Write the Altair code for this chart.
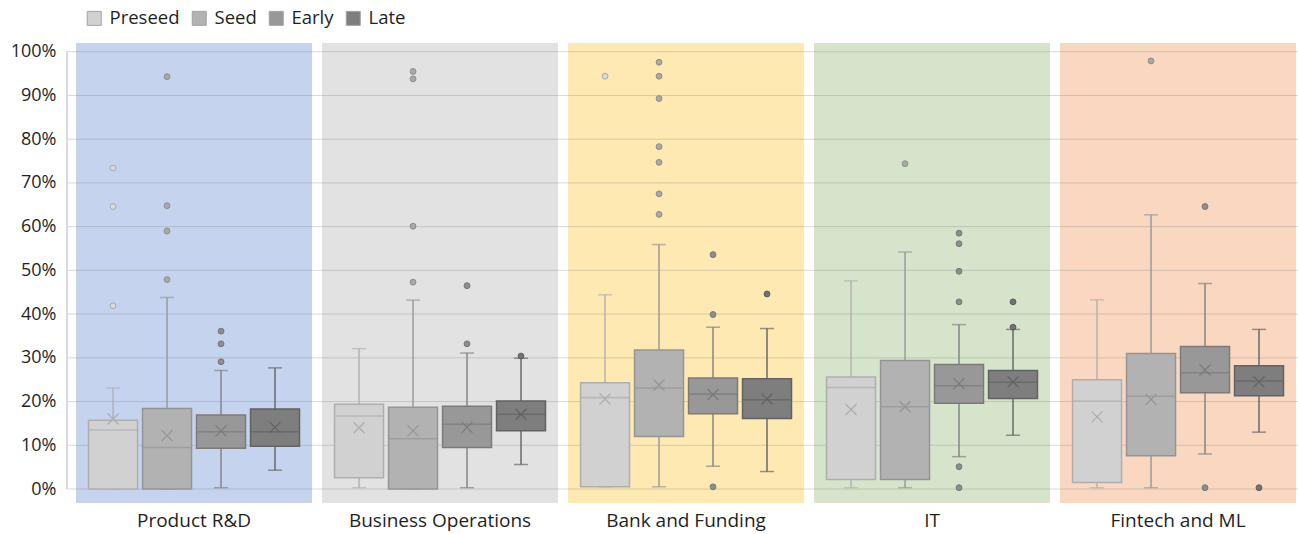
import altair as alt
import pandas as pd

# Funding stages within each business area
categories = ["Product R&D", "Business Operations", "Bank and Funding", "IT", "Fintech and ML"]
stages = ["Preseed", "Seed", "Early", "Late"]

# Box-plot statistics in percent, one row per category (Preseed, Seed, Early, Late)
q1 = [
    [0.0, 0.0, 9.3, 9.8],
    [2.6, 0.0, 9.5, 13.3],
    [0.5, 12.0, 17.2, 16.1],
    [2.2, 2.2, 19.6, 20.7],
    [1.5, 7.6, 22.0, 21.3],
]
median = [
    [13.5, 9.5, 13.1, 13.1],
    [16.7, 11.5, 14.8, 17.1],
    [20.9, 23.1, 21.7, 20.4],
    [23.2, 18.8, 23.6, 24.4],
    [20.1, 21.2, 26.6, 24.7],
]
q3 = [
    [15.7, 18.4, 16.9, 18.3],
    [19.4, 18.7, 18.9, 20.1],
    [24.3, 31.8, 25.4, 25.2],
    [25.6, 29.4, 28.5, 27.1],
    [25.0, 31.0, 32.6, 28.2],
]
whisker_low = [
    [0.0, 0.0, 0.3, 4.3],
    [0.3, 0.0, 0.3, 5.6],
    [0.5, 0.5, 5.2, 4.0],
    [0.3, 0.3, 7.4, 12.3],
    [0.3, 0.3, 8.0, 13.0],
]
whisker_high = [
    [23.1, 43.8, 27.1, 27.7],
    [32.1, 43.2, 31.1, 29.9],
    [44.4, 55.9, 37.0, 36.7],
    [47.6, 54.2, 37.6, 36.5],
    [43.3, 62.7, 47.0, 36.5],
]
mean = [
    [16.0, 12.2, 13.3, 14.1],
    [14.0, 13.3, 14.1, 17.1],
    [20.6, 23.8, 21.6, 20.6],
    [18.2, 18.8, 24.1, 24.5],
    [16.5, 20.5, 27.2, 24.5],
]

# Outlying observations per (category, stage)
outliers = {
    ("Product R&D", "Preseed"): [73.4, 64.6, 41.9],
    ("Product R&D", "Seed"): [94.3, 64.8, 59.0, 47.9],
    ("Product R&D", "Early"): [36.1, 33.2, 29.1],
    ("Business Operations", "Seed"): [95.5, 93.8, 60.1, 47.3],
    ("Business Operations", "Early"): [46.5, 33.2],
    ("Business Operations", "Late"): [30.4],
    ("Bank and Funding", "Preseed"): [94.4],
    ("Bank and Funding", "Seed"): [97.6, 94.4, 89.3, 78.3, 74.7, 67.5, 62.8],
    ("Bank and Funding", "Early"): [53.6, 39.9, 0.5],
    ("Bank and Funding", "Late"): [44.6],
    ("IT", "Seed"): [74.4],
    ("IT", "Early"): [58.5, 56.1, 49.8, 42.8, 5.1, 0.3],
    ("IT", "Late"): [42.8, 37.0],
    ("Fintech and ML", "Seed"): [97.9],
    ("Fintech and ML", "Early"): [64.6, 0.3],
    ("Fintech and ML", "Late"): [0.3],
}

tick_values = [0, 10, 20, 30, 40, 50, 60, 70, 80, 90, 100]

# Styling
panel_colors = ["#c5d3ee", "#e2e2e2", "#fee9b2", "#d6e4cb", "#f9d7c0"]
stage_fill = ["#d1d1d1", "#b2b2b2", "#989898", "#7e7e7e"]
stage_line = ["#aeaeae", "#959595", "#7b7b7b", "#626262"]
whisker_color = ["#b3b3b3", "#9b9b9b", "#858585", "#6a6a6a"]
outlier_fill = ["#dadada", "#a9a9a9", "#8e8e8e", "#727272"]
outlier_line = ["#a9a9a9", "#8d8d8d", "#757575", "#5c5c5c"]
FONT = "Open Sans"
TEXT = "#1f1f1f"

rows = []
for i, c in enumerate(categories):
    for j, s in enumerate(stages):
        rows.append(dict(
            category=c, stage=s,
            q1=q1[i][j], median=median[i][j], q3=q3[i][j],
            lo=whisker_low[i][j], hi=whisker_high[i][j], mean=mean[i][j],
            bline=stage_line[j], wline=whisker_color[j],
        ))
stats = pd.DataFrame(rows)

out_rows = []
for (c, s), vals in outliers.items():
    j = stages.index(s)
    for v in vals:
        out_rows.append(dict(category=c, stage=s, value=v,
                             ofill=outlier_fill[j], oline=outlier_line[j]))
outs = pd.DataFrame(out_rows)

panels = pd.DataFrame({"category": categories, "panel": panel_colors})
grid = pd.DataFrame({"v": tick_values})

Y_MIN, Y_MAX = -3.2, 102.0
y_scale = alt.Scale(domain=[Y_MIN, Y_MAX], nice=False, zero=False)
y_axis = alt.Axis(values=tick_values, labelExpr="datum.value + '%'", grid=False,
                  domain=False, ticks=False, labelFontSize=18, labelFont=FONT,
                  labelColor=TEXT, labelPadding=11)
x_scale = alt.Scale(domain=categories, paddingInner=0.0407, paddingOuter=0.0224, align=0.82)
x_axis = alt.Axis(labelAngle=0, domain=False, ticks=False, grid=False, labelFontSize=19,
                  labelFont=FONT, labelColor=TEXT, labelPadding=8, labelLimit=400)
X = alt.X("category:N", scale=x_scale, axis=x_axis, title=None)
XO = alt.XOffset("stage:N", scale=alt.Scale(domain=stages, paddingInner=0.093, paddingOuter=0.232))


def Y(field):
    return alt.Y(field, scale=y_scale, axis=y_axis, title=None)


background = alt.Chart(panels).mark_rect().encode(
    x=X,
    y=alt.datum(Y_MIN, scale=y_scale, axis=y_axis),
    y2=alt.datum(Y_MAX),
    color=alt.Color("panel:N", scale=None),
)

gridlines = alt.Chart(grid).mark_rule(color="#808080", opacity=0.3, strokeWidth=1).encode(
    y=Y("v:Q"),
)

y_line = alt.Chart(grid).mark_rule(color="#d9d9d9", strokeWidth=1).encode(
    x=alt.value(0),
    y=alt.datum(0, scale=y_scale, axis=y_axis),
    y2=alt.datum(100),
)

whiskers = alt.Chart(stats).mark_rule(strokeWidth=1.5).encode(
    x=X, xOffset=XO, y=Y("lo:Q"), y2="hi:Q",
    color=alt.Color("wline:N", scale=None),
)

caps_hi = alt.Chart(stats).mark_tick(orient="horizontal", size=14, thickness=1.5).encode(
    x=X, xOffset=XO, y=Y("hi:Q"), color=alt.Color("wline:N", scale=None),
)
caps_lo = alt.Chart(stats).mark_tick(orient="horizontal", size=14, thickness=1.5).encode(
    x=X, xOffset=XO, y=Y("lo:Q"), color=alt.Color("wline:N", scale=None),
)

boxes = alt.Chart(stats).mark_bar(strokeWidth=1.5).encode(
    x=X, xOffset=XO, y=Y("q1:Q"), y2="q3:Q",
    fill=alt.Fill("stage:N", scale=alt.Scale(domain=stages, range=stage_fill),
                  legend=alt.Legend(
                      orient="none", legendX=18, legendY=-34, direction="horizontal",
                      title=None, symbolType="square", symbolSize=196,
                      symbolStrokeColor="#a3a3a3", symbolStrokeWidth=1,
                      labelFontSize=18.5, labelFont=FONT, labelColor=TEXT,
                      labelOffset=6, columnPadding=10)),
    stroke=alt.Stroke("bline:N", scale=None),
)

medians = alt.Chart(stats).mark_tick(orient="horizontal", size=48, thickness=1.6).encode(
    x=X, xOffset=XO, y=Y("median:Q"), color=alt.Color("bline:N", scale=None),
)

means = alt.Chart(stats).mark_point(
    shape="M-1,-1L1,1M-1,1L1,-1", filled=False, size=121, strokeWidth=1.3, opacity=1
).encode(
    x=X, xOffset=XO, y=Y("mean:Q"), stroke=alt.Stroke("bline:N", scale=None),
)

outlier_marks = alt.Chart(outs).mark_circle(size=34, strokeWidth=1, opacity=1).encode(
    x=X, xOffset=XO, y=Y("value:Q"),
    fill=alt.Fill("ofill:N", scale=None),
    stroke=alt.Stroke("oline:N", scale=None),
)

chart = alt.layer(
    background, gridlines, y_line, whiskers, caps_hi, caps_lo, boxes, medians, means, outlier_marks
).resolve_scale(
    fill="independent", stroke="independent", color="independent"
).properties(
    width=1231, height=460,
    autosize=alt.AutoSizeParams(type="none"),
    padding={"left": 67, "top": 43, "right": 0, "bottom": 31},
    background="white",
).configure_view(stroke=None)

chart.save("out.html", embed_options={"renderer": "svg", "actions": False})
